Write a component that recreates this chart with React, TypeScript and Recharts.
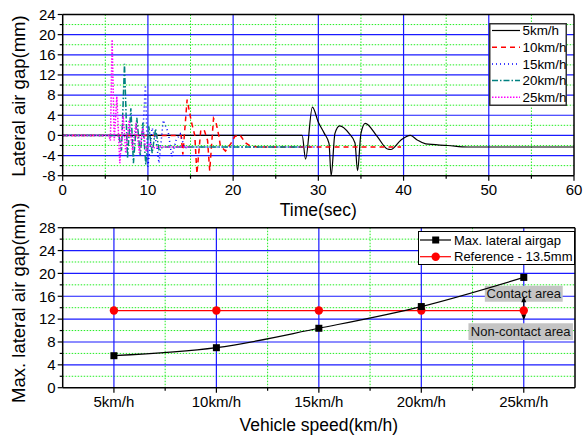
import React from "react";
import {
  CartesianGrid,
  Legend,
  Line,
  LineChart,
  ReferenceArea,
  ReferenceDot,
  ReferenceLine,
  XAxis,
  YAxis,
} from "recharts";

const FONT = '"Liberation Sans", Arial, sans-serif';

// ---- top panel: lateral air gap vs time, one run per speed ----
const SPEED_NAMES = ["5km/h", "10km/h", "15km/h", "20km/h", "25km/h"];

const t5 = [0, 28.1, 28.5, 29.3, 30.0, 30.7, 31.25, 31.5, 31.95, 32.5, 33.6, 34.3, 34.6, 35.0, 35.5, 36.9, 38.1, 38.5, 39.7, 40.8, 41.6, 42.6, 45.2, 47.5, 60];
const g5 = [0, 0, -4.7, 5.6, 2.6, 0.4, -1.6, -8, 0.4, 1.9, 0.4, -1.5, -7, 0.4, 2.4, -0.2, -2.7, -2.8, -0.9, 0, -0.9, -1.7, -2.0, -2.3, -2.3];

const t10 = [0, 13.9, 14.1, 14.6, 15.1, 15.5, 15.75, 16.2, 16.6, 17.0, 17.25, 17.7, 18.0, 18.3, 18.5, 19.1, 19.75, 20.2, 20.8, 21.4, 22.0, 22.8, 39.7];
const g10 = [0, 0, -3.8, 7.1, 2.7, 0, -7.6, 1.0, 1.1, -1.0, -7.0, 3.4, 2.5, 0.1, -2.1, -3.1, -1.6, -0.2, 0.1, -1.4, -2.1, -2.3, -2.3];

const t15 = [0, 9.4, 9.7, 10.0, 10.5, 11.0, 11.3, 11.8, 12.4, 12.8, 13.3, 13.8, 14.3, 14.8, 30];
const g15 = [0, 0, 10, -6.2, 1.5, -1.5, -5.5, 3.0, 0.5, -4.2, -1.0, 0.3, -2.5, -2.3, -2.3];

const t20 = [0, 6.6, 6.9, 7.25, 7.6, 8.0, 8.3, 8.7, 9.1, 9.4, 9.75, 10.1, 10.5, 10.9, 11.3, 11.8, 28];
const g20 = [0, 0, -3, 14.2, -4.5, 5.4, -5.5, 3.5, -4, 2.5, -5.8, 1.8, -3.5, 1.3, -2.8, -2.3, -2.3];

const t25 = [0, 5.4, 5.6, 5.8, 6.05, 6.35, 6.7, 7.1, 7.4, 7.8, 8.2, 8.6, 9.0, 9.4, 9.8, 10.2, 10.6, 11.0, 15];
const g25 = [0, 0, -1, 19, -1, 7.7, -5.5, 4, -3.5, 3, -3, 2.5, -3.5, 1.5, -3.2, -1.5, -2.5, -2.3, -2.3];

const zip = (ts: number[], gs: number[]) => ts.map((t, i) => ({ t, g: gs[i] }));
const RUNS = [zip(t5, g5), zip(t10, g10), zip(t15, g15), zip(t20, g20), zip(t25, g25)];

const RUN_STYLE = [
  { color: "#000000", dash: undefined, width: 1.2, curve: "monotone" },
  { color: "#ff0000", dash: "5 4", width: 1.5, curve: "linear" },
  { color: "#0000ff", dash: "1 3", width: 1.5, curve: "linear" },
  { color: "#008080", dash: "6 2 1.5 2", width: 1.5, curve: "linear" },
  { color: "#ff00ff", dash: "1.5 1.5", width: 1.5, curve: "linear" },
];

const X1_TICKS = [0, 5, 10, 15, 20, 25, 30, 35, 40, 45, 50, 55, 60];
const X1_MAJOR = [10, 20, 30, 40, 50];
const X1_MINOR = [5, 15, 25, 35, 45, 55];
const Y1_TICKS = [-8, -6, -4, -2, 0, 2, 4, 6, 8, 10, 12, 14, 16, 18, 20, 22, 24];
const Y1_MAJOR = [-4, 0, 4, 8, 12, 16, 20];
const Y1_MINOR = [-6, -2, 2, 6, 10, 14, 18, 22];

// ---- bottom panel: max lateral air gap per speed ----
const SPEED_X = [5, 10, 15, 20, 25];
const MAX_GAP = [5.6, 7.0, 10.4, 14.2, 19.3];
const REF_GAP = [13.5, 13.5, 13.5, 13.5, 13.5];
const summary = SPEED_X.map((v, i) => ({ v, max: MAX_GAP[i], ref: REF_GAP[i] }));

const X2_TICKS = [5, 7.5, 10, 12.5, 15, 17.5, 20, 22.5, 25];
const X2_MINOR = [7.5, 12.5, 17.5, 22.5];
const Y2_TICKS = [0, 2, 4, 6, 8, 10, 12, 14, 16, 18, 20, 22, 24, 26, 28];
const Y2_MAJOR = [4, 8, 12, 16, 20, 24];
const Y2_MINOR = [2, 6, 10, 14, 18, 22, 26];

const BLUE = "#1a1aff";
const GREEN = "#22ee22";

const leftTick = (step: number) => (props: any) => {
  const { x, y, payload } = props;
  const v = payload.value;
  const major = v % step === 0;
  return (
    <g>
      <line x1={x} x2={x - (major ? 5 : 3)} y1={y} y2={y} stroke="#000" strokeWidth={1.2} />
      {major && (
        <text x={x - 7} y={y} dy={5.3} textAnchor="end" fontSize={15} fontFamily={FONT} fill="#000">
          {v}
        </text>
      )}
    </g>
  );
};

const bottomTick = (isMajor: (v: number) => boolean, fmt: (v: number) => string) => (props: any) => {
  const { x, y, payload } = props;
  const v = payload.value;
  const major = isMajor(v);
  return (
    <g>
      <line x1={x} x2={x} y1={y} y2={y + (major ? 5 : 3)} stroke="#000" strokeWidth={1.2} />
      {major && (
        <text x={x} y={y + 19} textAnchor="middle" fontSize={15} fontFamily={FONT} fill="#000">
          {fmt(v)}
        </text>
      )}
    </g>
  );
};

const yLabel = (text: string, shift: number) => (props: any) => {
  const vb = props.viewBox;
  const cx = 19;
  const cy = vb.y + vb.height / 2 + shift;
  return (
    <text x={cx} y={cy} transform={`rotate(-90 ${cx} ${cy})`} textAnchor="middle" dominantBaseline="central" fontSize={18.5} fontFamily={FONT} fill="#000">
      {text}
    </text>
  );
};

const xLabel = (text: string, dy: number) => (props: any) => {
  const vb = props.viewBox;
  return (
    <text x={vb.x + vb.width / 2} y={vb.y + dy} textAnchor="middle" fontSize={17.5} fontFamily={FONT} fill="#000">
      {text}
    </text>
  );
};

function RunLegend() {
  return (
    <svg width={78} height={83} style={{ display: "block", overflow: "visible" }}>
      <rect x={0.75} y={0.75} width={76.5} height={81.5} fill="#fff" stroke="#333" strokeWidth={1.5} />
      {SPEED_NAMES.map((name, i) => {
        const s = RUN_STYLE[i];
        const cy = 7.5 + i * 16.7;
        return (
          <g key={name}>
            <line x1={3} x2={31} y1={cy} y2={cy} stroke={s.color} strokeWidth={s.width} strokeDasharray={s.dash} />
            <text x={33.5} y={cy} dy={4.8} fontSize={13.4} fontFamily={FONT} fill="#000">
              {name}
            </text>
          </g>
        );
      })}
    </svg>
  );
}

function SummaryLegend() {
  return (
    <svg width={157} height={34} style={{ display: "block", overflow: "visible" }}>
      <rect x={0.5} y={0.5} width={156} height={33} fill="#fff" stroke="#000" strokeWidth={1} />
      <line x1={2} x2={33} y1={9} y2={9} stroke="#000" strokeWidth={1.2} />
      <rect x={14.2} y={5.5} width={7} height={7} fill="#000" />
      <text x={36} y={9} dy={4.6} fontSize={13} fontFamily={FONT} fill="#000">Max. lateral airgap</text>
      <line x1={2} x2={33} y1={25.7} y2={25.7} stroke="#ff0000" strokeWidth={1.2} />
      <circle cx={17.7} cy={25.7} r={4.2} fill="#ff0000" />
      <text x={36} y={25.7} dy={4.6} fontSize={13} fontFamily={FONT} fill="#000">Reference - 13.5mm</text>
    </svg>
  );
}

const squareDot = (props: any) => (
  <rect key={`sq-${props.index}`} x={props.cx - 3.5} y={props.cy - 3.5} width={7} height={7} fill="#000" />
);
const circleDot = (props: any) => (
  <circle key={`ci-${props.index}`} cx={props.cx} cy={props.cy} r={4.2} fill="#ff0000" />
);

const areaLabel = (text: string) => (props: any) => {
  const vb = props.viewBox;
  return (
    <text x={vb.x + vb.width / 2} y={vb.y + vb.height / 2} dy={4.5} textAnchor="middle" fontSize={13} fontFamily={FONT} fill="#111">
      {text}
    </text>
  );
};

const arrowUp = (p: any) => (
  <polygon points={`${p.cx},${p.cy} ${p.cx - 2.5},${p.cy + 6} ${p.cx + 2.5},${p.cy + 6}`} fill="#000" />
);
const arrowDown = (p: any) => (
  <polygon points={`${p.cx},${p.cy} ${p.cx - 2.5},${p.cy - 6} ${p.cx + 2.5},${p.cy - 6}`} fill="#000" />
);

export default function App() {
  return (
    <div style={{ position: "absolute", left: 0, top: 0, width: 583, height: 438, background: "#fff" }}>
      <div style={{ position: "absolute", left: 0, top: 0 }}>
        <LineChart width={583} height={225} margin={{ top: 14.5, right: 9, bottom: 0, left: 0 }}>
          <CartesianGrid vertical={false} horizontalValues={Y1_MINOR} stroke={GREEN} strokeDasharray="1.5 1.5" />
          <CartesianGrid horizontal={false} verticalValues={X1_MINOR} stroke={GREEN} strokeDasharray="1.5 1.5" />
          <CartesianGrid vertical={false} horizontalValues={Y1_MAJOR} stroke={BLUE} strokeWidth={1.2} />
          <CartesianGrid horizontal={false} verticalValues={X1_MAJOR} stroke={BLUE} strokeWidth={1.2} />
          <XAxis
            type="number"
            dataKey="t"
            domain={[0, 60]}
            ticks={X1_TICKS}
            interval={0}
            height={49.3}
            tickSize={0}
            tickMargin={0}
            tickLine={false}
            tick={bottomTick((v) => v % 10 === 0, (v) => `${v}`)}
            axisLine={{ stroke: "#000", strokeWidth: 1.5 }}
            label={xLabel("Time(sec)", 40.6)}
            allowDataOverflow
          />
          <YAxis
            type="number"
            domain={[-8, 24]}
            ticks={Y1_TICKS}
            interval={0}
            width={62.7}
            tickSize={0}
            tickMargin={0}
            tickLine={false}
            tick={leftTick(4)}
            axisLine={{ stroke: "#000", strokeWidth: 1.5 }}
            label={yLabel("Lateral air gap(mm)", 1)}
            allowDataOverflow
          />
          <ReferenceLine y={24} stroke="#000" strokeWidth={1.5} />
          <ReferenceLine x={60} stroke="#000" strokeWidth={1.5} />
          {RUNS.map((run, i) => (
            <Line
              key={SPEED_NAMES[i]}
              data={run}
              dataKey="g"
              name={SPEED_NAMES[i]}
              type={RUN_STYLE[i].curve as any}
              stroke={RUN_STYLE[i].color}
              strokeWidth={RUN_STYLE[i].width}
              strokeDasharray={RUN_STYLE[i].dash}
              dot={false}
              activeDot={false}
              isAnimationActive={false}
            />
          ))}
          <Legend
            layout="vertical"
            align="center"
            verticalAlign="middle"
            content={() => <RunLegend />}
            wrapperStyle={{ left: 489, top: 23, width: 78, height: 83 }}
          />
        </LineChart>
      </div>
      <div style={{ position: "absolute", left: 0, top: 190 }}>
        <LineChart width={583} height={248} data={summary} margin={{ top: 37.7, right: 8, bottom: 0, left: 0 }}>
          <CartesianGrid vertical={false} horizontalValues={Y2_MINOR} stroke={GREEN} strokeDasharray="1.5 1.5" />
          <CartesianGrid horizontal={false} verticalValues={X2_MINOR} stroke={GREEN} strokeDasharray="1.5 1.5" />
          <CartesianGrid vertical={false} horizontalValues={Y2_MAJOR} stroke={BLUE} strokeWidth={1.2} />
          <CartesianGrid horizontal={false} verticalValues={SPEED_X} stroke={BLUE} strokeWidth={1.2} />
          <XAxis
            type="number"
            dataKey="v"
            domain={[2.5, 27.5]}
            ticks={X2_TICKS}
            interval={0}
            height={50.3}
            tickSize={0}
            tickMargin={0}
            tickLine={false}
            tick={bottomTick((v) => v % 5 === 0, (v) => `${v}km/h`)}
            axisLine={{ stroke: "#000", strokeWidth: 1.5 }}
            label={xLabel("Vehicle speed(km/h)", 43.6)}
          />
          <YAxis
            type="number"
            domain={[0, 28]}
            ticks={Y2_TICKS}
            interval={0}
            width={62.7}
            tickSize={0}
            tickMargin={0}
            tickLine={false}
            tick={leftTick(4)}
            axisLine={{ stroke: "#000", strokeWidth: 1.5 }}
            label={yLabel("Max. lateral air gap(mm)", -5)}
          />
          <ReferenceLine y={28} stroke="#000" strokeWidth={1.5} />
          <ReferenceLine x={27.5} stroke="#000" strokeWidth={1.5} />
          <ReferenceArea x1={23.1} x2={26.9} y1={15.05} y2={17.85} fill="#c4c4c4" fillOpacity={1} stroke="none" label={areaLabel("Contact area")} />
          <ReferenceArea x1={22.3} x2={27.4} y1={8.35} y2={11.3} fill="#c4c4c4" fillOpacity={1} stroke="none" label={areaLabel("Non-contact area")} />
          <Line
            dataKey="ref"
            name="Reference - 13.5mm"
            type="linear"
            stroke="#ff0000"
            strokeWidth={1.2}
            dot={circleDot}
            activeDot={false}
            isAnimationActive={false}
          />
          <Line
            dataKey="max"
            name="Max. lateral airgap"
            type="monotone"
            stroke="#000"
            strokeWidth={1.2}
            dot={squareDot}
            activeDot={false}
            isAnimationActive={false}
          />
          <ReferenceLine segment={[{ x: 25, y: 13.5 }, { x: 25, y: 15.6 }]} stroke="#000" strokeWidth={1.2} />
          <ReferenceLine segment={[{ x: 25, y: 13.5 }, { x: 25, y: 12.2 }]} stroke="#000" strokeWidth={1.2} />
          <ReferenceDot x={25} y={16.0} shape={arrowUp} />
          <ReferenceDot x={25} y={11.8} shape={arrowDown} />
          <Legend
            layout="vertical"
            align="center"
            verticalAlign="middle"
            content={() => <SummaryLegend />}
            wrapperStyle={{ left: 418, top: 41, width: 157, height: 34 }}
          />
        </LineChart>
      </div>
    </div>
  );
}
